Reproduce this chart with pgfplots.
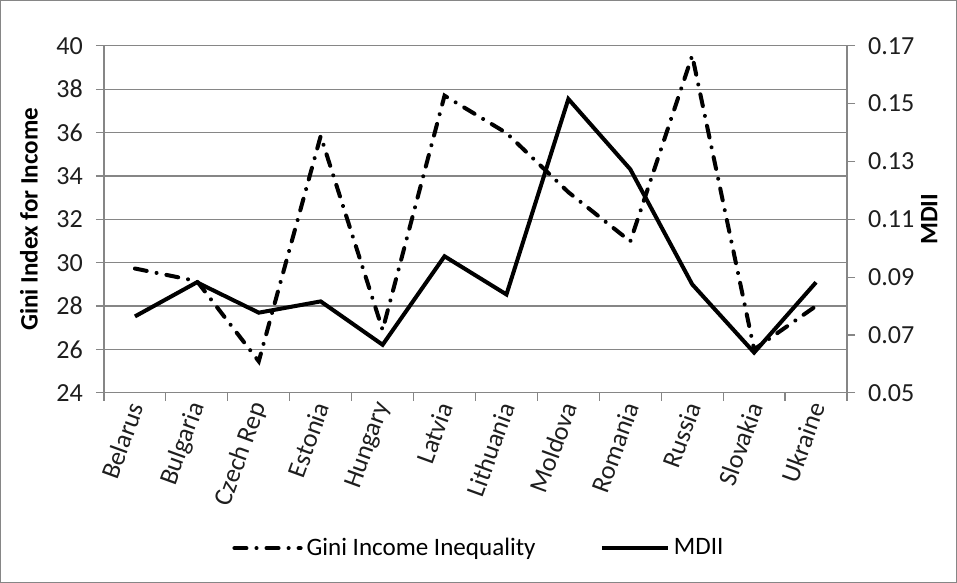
\documentclass[border=0pt]{standalone}
\usepackage{pgfplots}
\pgfplotsset{compat=1.18}
\usepackage{fontspec}
\setmainfont{Carlito}
\definecolor{gridgray}{RGB}{134,134,134}
\definecolor{txt}{RGB}{30,30,30}
\pgfplotsset{
  gini/.style={black, line width=2pt, line cap=round, dash pattern=on 6pt off 5pt on 0.01pt off 5pt},
  mdii/.style={black, line width=2pt, line join=miter},
}
\begin{document}
\begin{tikzpicture}
\begin{axis}[
  at={(0,0)}, anchor=south west,
  scale only axis, width=370.5pt, height=173pt,
  xmin=-0.5, xmax=11.5, ymin=24, ymax=40,
  ytick={24,26,...,40},
  xtick={0,...,11},
  xticklabels={Belarus,Bulgaria,Czech Rep,Estonia,Hungary,Latvia,Lithuania,Moldova,Romania,Russia,Slovakia,Ukraine},
  major x tick style={draw=none},
  minor xtick={-0.5,0.5,...,11.5},
  minor x tick style={gridgray, line width=0.6pt},
  minor tick length=4pt,
  axis x line*=bottom, axis y line*=left,
  axis line style={gridgray, line width=0.6pt, -},
  ymajorgrids, grid style={gridgray, line width=0.6pt},
  tick align=outside, major tick length=4pt,
  y tick style={gridgray, line width=0.6pt},
  tick label style={font=\fontsize{13}{15}\selectfont, text=txt},
  yticklabel style={xshift=-3pt},
  x tick label style={rotate=70, anchor=east, inner sep=1pt, yshift=-1pt},
  /pgf/number format/assume math mode=true,
  ylabel={\textbf{Gini Index for Income}},
  ylabel style={font=\fontsize{12.5}{14}\selectfont, text=black, at={(axis description cs:-0.101,0.5)}, anchor=center},
  clip=false,
]
\addplot[gini] coordinates {
(0,29.73) (1,29.15) (2,25.45) (3,35.84) (4,26.9) (5,37.70) (6,35.98) (7,33.25) (8,30.98) (9,39.55) (10,26.0) (11,28.0)
};
\end{axis}
\begin{axis}[
  at={(0,0)}, anchor=south west,
  scale only axis, width=370.5pt, height=173pt,
  xmin=-0.5, xmax=11.5, ymin=0.05, ymax=0.17,
  ytick={0.05,0.07,0.09,0.11,0.13,0.15,0.17},
  axis x line=none, axis y line*=right,
  axis line style={gridgray, line width=0.6pt, -},
  tick align=outside, major tick length=4pt,
  y tick style={gridgray, line width=0.6pt},
  tick label style={font=\fontsize{13}{15}\selectfont, text=txt},
  /pgf/number format/assume math mode=true,
  yticklabel style={xshift=3pt, /pgf/number format/.cd, fixed, fixed zerofill, precision=2},
  ylabel={\textbf{MDII}},
  ylabel style={font=\fontsize{12.5}{14}\selectfont, text=black, at={(axis description cs:1.1107,0.5)}, anchor=center},
  legend style={draw=none, fill=none, at={(rel axis cs:0.506,-0.448)}, anchor=center,
    font=\fontsize{12.5}{14}\selectfont, legend columns=2,
    /tikz/every even column/.append style={column sep=30pt}},
  legend image code/.code={\draw[#1] (0pt,0pt) -- (33pt,0pt);},
  clip=false,
]
\addlegendimage{gini}
\addlegendentry{Gini Income Inequality}
\addplot[mdii] coordinates {
(0,0.0764) (1,0.0882) (2,0.0777) (3,0.0816) (4,0.0666) (5,0.0972) (6,0.0840) (7,0.1516) (8,0.1273) (9,0.0875) (10,0.0639) (11,0.0882)
};
\addlegendentry{MDII}
\end{axis}
\draw[gridgray, line width=0.7pt] (-51.5pt,-94.5pt) rectangle (425pt,195.5pt);
\end{tikzpicture}
\end{document}
